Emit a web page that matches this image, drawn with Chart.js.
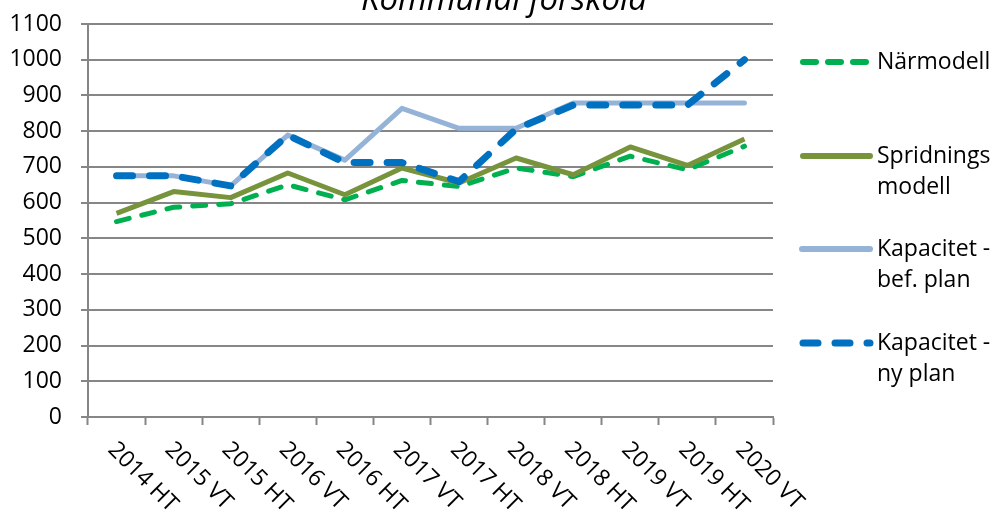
<!DOCTYPE html>
<html>
<head>
<meta charset="utf-8">
<script src="https://cdn.jsdelivr.net/npm/chart.js@4"></script>
<style>
  html, body { margin: 0; padding: 0; background: #fff; }
  #wrap { position: relative; width: 995px; height: 518px; }
</style>
</head>
<body>
<div id="wrap"><canvas id="chart" width="995" height="518"></canvas></div>
<script>
// terminer och prognoser
const terminer = ['2014 HT', '2015 VT', '2015 HT', '2016 VT', '2016 HT', '2017 VT',
                  '2017 HT', '2018 VT', '2018 HT', '2019 VT', '2019 HT', '2020 VT'];
const narmodell   = [547, 587, 597, 650, 608, 662, 645, 697, 673, 730, 692, 758];
const spridning   = [570, 631, 614, 683, 622, 697, 655, 725, 678, 756, 704, 778];
const kapBefPlan  = [675, 675, 647, 789, 719, 864, 808, 808, 879, 879, 879, 879];
const kapNyPlan   = [675, 675, 647, 789, 712, 712, 659, 806, 873, 873, 873, 1000];
const yTicks = [0, 100, 200, 300, 400, 500, 600, 700, 800, 900, 1000, 1100];

const FONT = "'Open Sans', 'Liberation Sans', sans-serif";
const FS = 23;

// legend rows: text lines + y position for the swatch
const legendRader = [
  { lines: ['Närmodell'], y: 62 },
  { lines: ['Spridnings', 'modell'], y: 156 },
  { lines: ['Kapacitet -', 'bef. plan'], y: 249 },
  { lines: ['Kapacitet -', 'ny plan'], y: 343 }
];

const extraRitning = {
  id: 'extraRitning',
  afterDraw(chart) {
    const ctx = chart.ctx;
    const xs = chart.scales.x;
    ctx.save();

    // title, clipped at the top edge
    ctx.fillStyle = '#000';
    ctx.font = 'italic 33px ' + FONT;
    ctx.textAlign = 'center';
    ctx.textBaseline = 'alphabetic';
    ctx.fillText('Kommunal förskola', 504, 10);

    // rotated category labels
    ctx.font = FS + 'px ' + FONT;
    ctx.textAlign = 'left';
    ctx.textBaseline = 'middle';
    terminer.forEach((t, i) => {
      const x = xs.getPixelForValue(i);
      ctx.save();
      ctx.translate(x - 5, 446);
      ctx.rotate(Math.PI / 4);
      ctx.fillText(t, 0, 0);
      ctx.restore();
    });

    // legend
    chart.data.datasets.forEach((ds, i) => {
      const rad = legendRader[i];
      ctx.save();
      ctx.strokeStyle = ds.borderColor;
      ctx.lineWidth = ds.legendWidth;
      ctx.lineCap = 'round';
      ctx.setLineDash(ds.legendDash || []);
      ctx.beginPath();
      ctx.moveTo(ds.legendFrom, rad.y);
      ctx.lineTo(870, rad.y);
      ctx.stroke();
      ctx.restore();
      ctx.fillStyle = '#000';
      ctx.font = FS + 'px ' + FONT;
      ctx.textAlign = 'left';
      ctx.textBaseline = 'middle';
      rad.lines.forEach((l, j) => ctx.fillText(l, 877, rad.y + j * 31));
    });
    ctx.restore();
  }
};

new Chart(document.getElementById('chart'), {
  type: 'line',
  data: {
    labels: terminer,
    datasets: [
      {
        label: 'Närmodell', data: narmodell,
        borderColor: '#00B050', borderWidth: 5, borderDash: [13, 13],
        borderCapStyle: 'round', order: 4,
        legendWidth: 6, legendDash: [13, 12], legendFrom: 803
      },
      {
        label: 'Spridningsmodell', data: spridning,
        borderColor: '#77933C', borderWidth: 5, order: 3,
        borderCapStyle: 'butt',
        legendWidth: 6, legendFrom: 803
      },
      {
        label: 'Kapacitet - bef. plan', data: kapBefPlan,
        borderColor: '#95B3D7', borderWidth: 5, order: 2,
        borderCapStyle: 'round',
        legendWidth: 6, legendFrom: 802
      },
      {
        label: 'Kapacitet - ny plan', data: kapNyPlan,
        borderColor: '#0070C0', borderWidth: 7, borderDash: [16, 17],
        borderCapStyle: 'round', order: 1,
        legendWidth: 7, legendDash: [15, 17], legendFrom: 803
      }
    ]
  },
  options: {
    responsive: false,
    animation: false,
    layout: { padding: { top: 24, right: 222, left: 0, bottom: 0 } },
    elements: {
      point: { radius: 0, hoverRadius: 0 },
      line: { tension: 0, borderJoinStyle: 'round' }
    },
    plugins: {
      legend: { display: false },
      tooltip: { enabled: false }
    },
    scales: {
      x: {
        offset: true,
        afterFit(s) { s.height = 101; s.paddingLeft = 0; s.paddingRight = 0; },
        grid: {
          offset: true,
          drawOnChartArea: false,
          tickLength: 8,
          tickColor: '#868686',
          tickWidth: 2
        },
        border: { color: '#868686', width: 2 },
        ticks: { display: false }
      },
      y: {
        min: 0, max: 1100,
        afterFit(s) { s.width = 88; s.paddingTop = 0; s.paddingBottom = 0; },
        afterBuildTicks(s) {
          // major steps of 100 with a faint line at every 50
          const t = [];
          for (let v = 0; v <= 1100; v += 50) t.push({ value: v });
          s.ticks = t;
        },
        grid: {
          color: c => (c.tick && c.tick.value % 100 === 0) ? '#868686' : '#e3e3e3',
          lineWidth: c => (c.tick && c.tick.value % 100 === 0) ? 2 : 1,
          tickColor: '#868686',
          tickLength: 7,
          tickWidth: 2
        },
        border: { color: '#868686', width: 2 },
        ticks: {
          padding: 19,
          color: '#000',
          font: { family: FONT, size: FS },
          callback: v => yTicks.includes(v) ? String(v) : ''
        }
      }
    }
  },
  plugins: [extraRitning]
});
</script>
</body>
</html>
